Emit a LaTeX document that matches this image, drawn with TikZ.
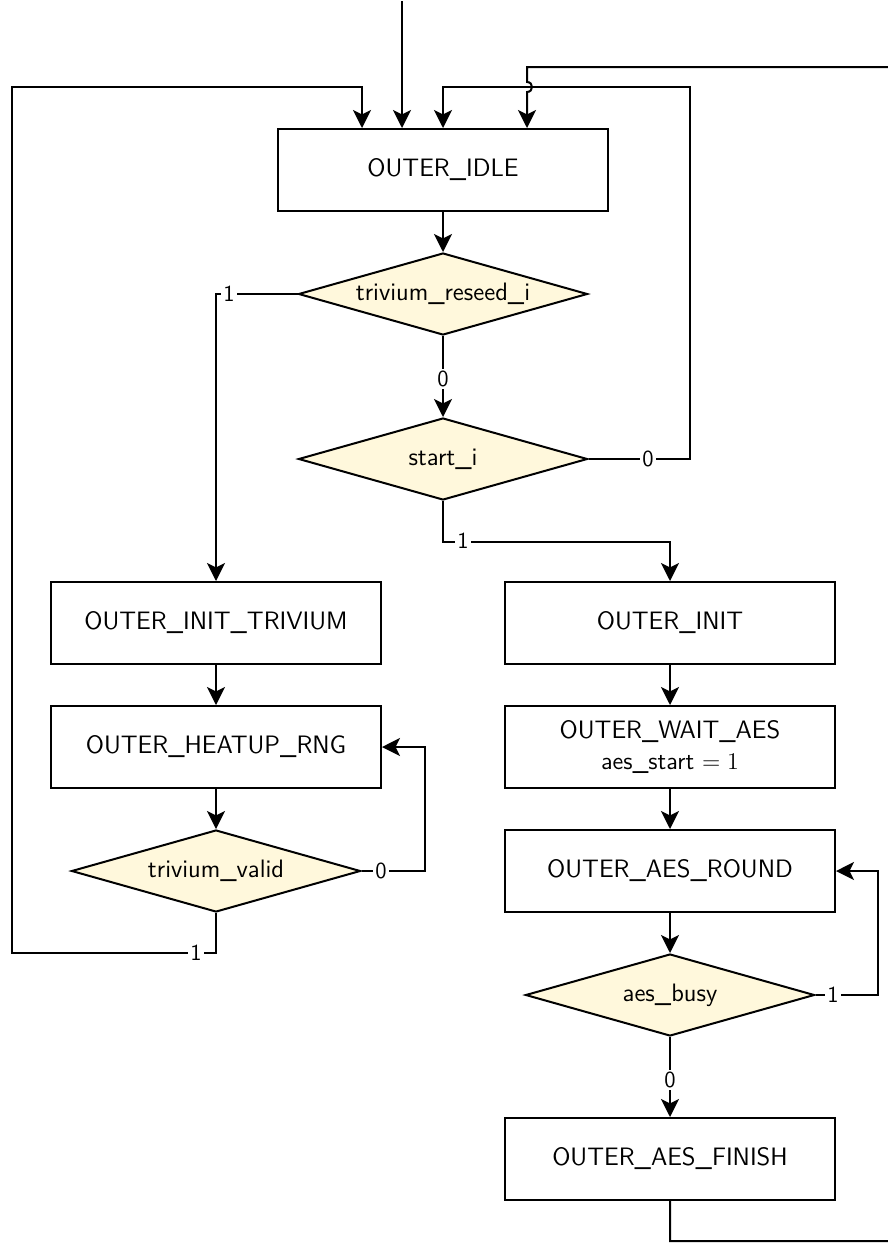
\documentclass[tikz,border=0pt]{standalone}
\usetikzlibrary{arrows.meta,shapes.geometric,calc}
\definecolor{decfill}{RGB}{255,248,220}
\tikzset{
  state/.style={draw, line width=1pt, minimum width=165pt, minimum height=41pt,
    inner sep=0pt, align=center, font=\sffamily\fontsize{12.6}{15.5}\selectfont},
  decision/.style={diamond, draw, line width=1pt, fill=decfill, minimum width=144.5pt,
    minimum height=41pt, shape aspect=3.5, inner sep=0pt,
    font=\sffamily\fontsize{12.6}{14}\selectfont},
  flow/.style={line width=1pt, -{Stealth[length=9pt,width=9pt,inset=2.2pt]}},
  lbl/.style={fill=white, inner sep=1pt, font=\sffamily\fontsize{11.5}{13}\selectfont}
}
\begin{document}
\begin{tikzpicture}[x=0.5pt, y=-0.5pt]
  \useasboundingbox (0,0) rectangle (888,1243);
  \clip (0,0) rectangle (888,1243);

  % states and decisions
  \node[state] (idle) at (443,170) {OUTER\_IDLE};
  \node[decision] (reseed) at (443,294) {trivium\_reseed\_i};
  \node[decision] (start) at (443,459) {start\_i};
  \node[state] (inittriv) at (216,623) {OUTER\_INIT\_TRIVIUM};
  \node[state] (heatup) at (216,747) {OUTER\_HEATUP\_RNG};
  \node[decision] (valid) at (216,871) {trivium\_valid};
  \node[state] (init) at (670,623) {OUTER\_INIT};
  \node[state] (wait) at (670,747) {OUTER\_WAIT\_AES\\{\fontsize{12.3}{14}\selectfont aes\_start $= 1$}};
  \node[state] (round) at (670,871) {OUTER\_AES\_ROUND};
  \node[decision] (busy) at (670,995) {aes\_busy};
  \node[state] (finish) at (670,1159) {OUTER\_AES\_FINISH};

  % reset entry
  \coordinate (entry) at (402,1);
  \draw[flow] (entry) -- (idle.north -| entry);

  % main path
  \draw[flow] (idle.south) -- (reseed.north);
  \draw[flow] (reseed.south) -- (start.north);
  \draw[flow] (reseed.west) -| (inittriv.north);
  \draw[flow] (start.south) -- ++(0,41) -| (init.north);
  \draw[flow] (inittriv.south) -- (heatup.north);
  \draw[flow] (heatup.south) -- (valid.north);
  \draw[flow] (valid.east) -- ++(63,0) |- (heatup.east);
  \draw[flow] (init.south) -- (wait.north);
  \draw[flow] (wait.south) -- (round.north);
  \draw[flow] (round.south) -- (busy.north);
  \draw[flow] (busy.east) -- ++(62,0) |- (round.east);
  \draw[flow] (busy.south) -- (finish.north);

  % loops back to idle
  \draw[flow] (valid.south) |- (12,953) |- (362,87) -- ($(idle.north)+(-81,0)$);
  \draw[flow] (start.east) -| (690,87) -| (idle.north);
  \draw[flow] (finish.south) |- (950,1241) -- (950,67) -- (527,67) -- (527,82)
    .. controls (533.7,82) and (533.7,92) .. (527,92) -- ($(idle.north)+(84,0)$);

  % branch labels
  \node[lbl] (l1) at (229,294) {1};
  \node[lbl] (l2) at (443,379) {0};
  \node[lbl] (l3) at (648,459) {0};
  \node[lbl] (l4) at (463,541) {1};
  \node[lbl] (l5) at (381,871) {0};
  \node[lbl] (l6) at (196,953) {1};
  \node[lbl] (l7) at (833,995) {1};
  \node[lbl] (l8) at (670,1080) {0};
\end{tikzpicture}
\end{document}
